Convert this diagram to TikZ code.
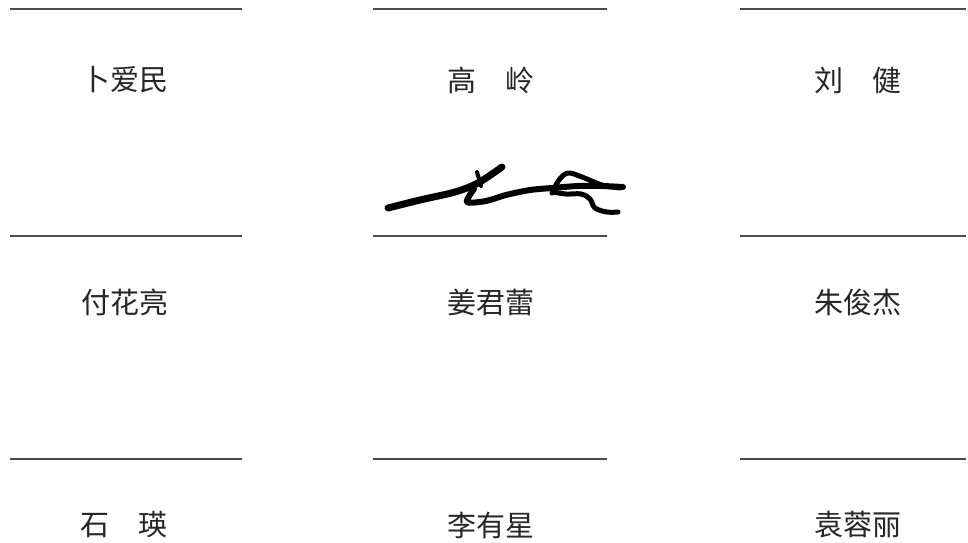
\documentclass[tikz,border=0pt]{standalone}
\usepackage{fontspec}
\newfontfamily\cjk{Noto Sans CJK SC}
\begin{document}
\begin{tikzpicture}[x=1pt,y=-1pt,
  sigline/.style={draw=black!70,line width=2.2pt},
  namelabel/.style={font=\cjk\fontsize{29}{32}\selectfont,text=black!85,inner sep=0pt,anchor=center},
  pen/.style={line width=6pt,line cap=round,line join=round,black}]
\useasboundingbox[fill=white] (0,0) rectangle (968,542);
% signature lines
\foreach \yy in {9,236,459}{
  \draw[sigline] (10,\yy) -- (242,\yy);
  \draw[sigline] (373,\yy) -- (607,\yy);
  \draw[sigline] (740,\yy) -- (966,\yy);
}
% names
\node[namelabel] (n11) at (125,80) {卜爱民};
\node[namelabel] (n12) at (491,80) {高\hspace{1em}岭};
\node[namelabel] (n13) at (858,80) {刘\hspace{1em}健};
\node[namelabel] (n21) at (125,302) {付花亮};
\node[namelabel] (n22) at (491,302) {姜君蕾};
\node[namelabel] (n23) at (858,302) {朱俊杰};
\node[namelabel] (n31) at (124,525) {石\hspace{1em}瑛};
\node[namelabel] (n32) at (491,525) {李有星};
\node[namelabel] (n33) at (858,525) {袁蓉丽};
% handwritten signature
\draw[pen,line width=7pt] plot[smooth,tension=0.5] coordinates {(388,208) (420,200) (455,192) (478,183) (502,167)};
\draw[pen,line width=4pt] (477,172) -- (481,186);
\draw[pen] plot[smooth,tension=0.5] coordinates {(474,189) (467,202) (486,201) (506,195) (530,190) (552,188) (578,186) (602,186) (623,187)};
\draw[pen,line width=5pt] plot[smooth,tension=0.6] coordinates {(552,193) (559,180) (568,173) (582,177) (602,185) (620,188)};
\draw[pen,line width=5pt] plot[smooth,tension=0.6] coordinates {(553,192) (566,194) (581,194) (590,199) (595,208) (607,212) (618,212)};
\end{tikzpicture}
\end{document}
